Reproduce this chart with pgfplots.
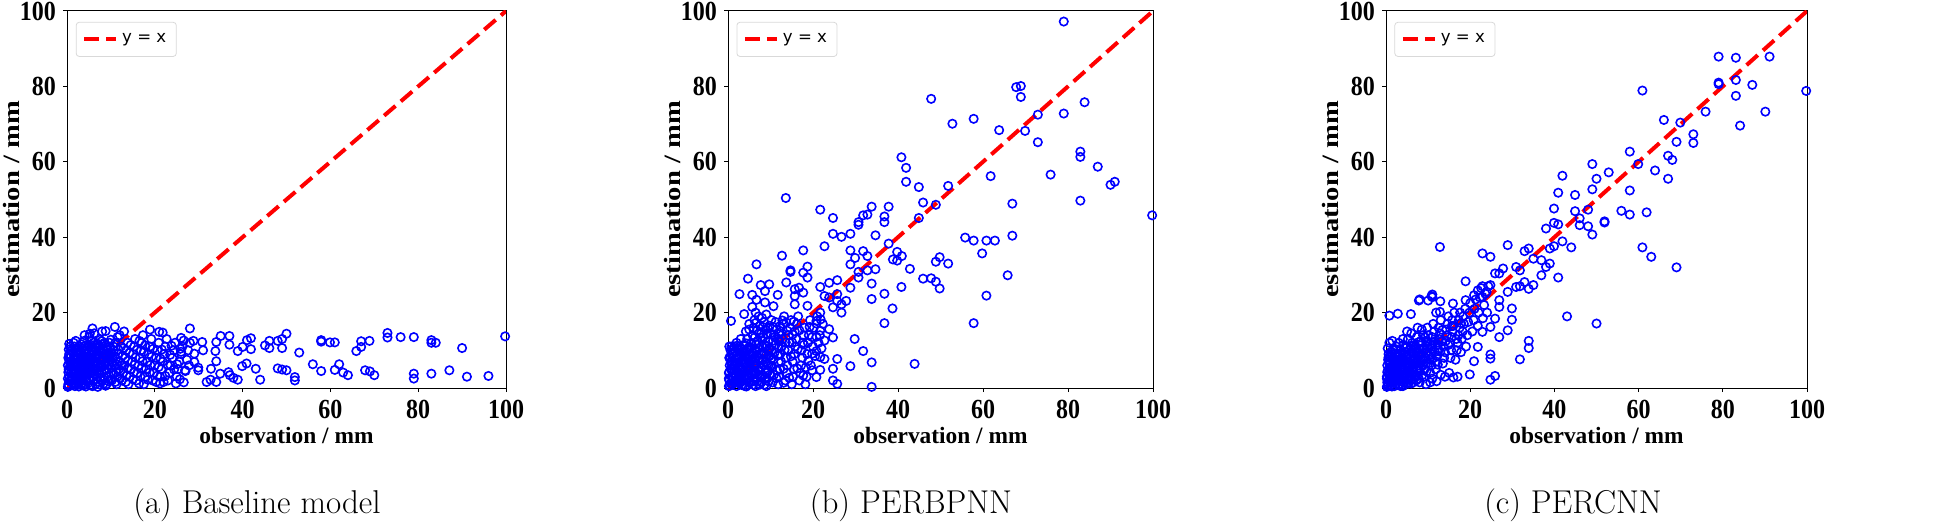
\documentclass[border=0pt]{standalone}
\usepackage{fontspec}
\usepackage{graphicx}
\usepackage{pgfplots}
\pgfplotsset{compat=1.18}
\newfontfamily\tnr{Liberation Serif}
\newfontfamily\dejavu{DejaVu Sans}
\newcommand\tickfont{\fontsize{12}{13}\selectfont\tnr\bfseries}

\pgfplotsset{
  panel/.style={
    scale only axis,
    anchor=south west,
    xmin=0, xmax=100, ymin=0, ymax=100,
    xtick={0,20,...,100}, ytick={0,20,...,100},
    tick align=outside, xtick pos=bottom, ytick pos=left,
    major tick length=2pt,
    tick style={black, line width=0.5pt},
    axis line style={line width=0.5pt},
    /pgf/number format/assume math mode=true,
    tick label style={font=\tickfont},
    xticklabel={\tickfont\scalebox{1}[1.15]{\axisdefaultticklabel}},
    yticklabel={\tickfont\scalebox{1}[1.15]{\axisdefaultticklabel}},
    xticklabel style={yshift=-0.5pt},
    xlabel={observation / mm},
    ylabel={\scalebox{1.22}[1]{estimation / mm}},
    every axis x label/.style={at={(axis description cs:0.5,0)}, anchor=center, yshift=-23.5pt,
      font=\fontsize{11.7}{14}\selectfont\tnr\bfseries},
    every axis y label/.style={at={(axis description cs:0,0.5)}, anchor=center, xshift=-28pt, rotate=90,
      font=\fontsize{11.7}{14}\selectfont\tnr\bfseries},
    legend style={at={(0.02,0.971)}, anchor=north west, draw=black!15, rounded corners=1.5pt,
      font=\fontsize{8.3}{10}\selectfont\dejavu, inner xsep=3pt, inner ysep=3.5pt, row sep=0pt},
    legend cell align=left,
    legend image code/.code={\draw[#1] (0pt,0pt) -- (16pt,0pt);},
  },
  scat/.style={only marks, mark=o, blue, mark size=2.1pt, mark options={line width=0.8pt}, forget plot},
  diag/.style={red, line width=2pt, dash pattern=on 7.5pt off 3.5pt},
}

\begin{document}
\begin{tikzpicture}
\useasboundingbox (0,0) rectangle (973pt,265.5pt);

% (a) Baseline model
\begin{axis}[panel, at={(33.5pt,71.5pt)}, width=219.5pt, height=188.5pt]
\addplot[scat] coordinates {
(28,15.8) (18.9,15.5) (21.8,14.7) (21,14.9) (26,13.3) (28.8,12.5) (30.8,12.2) (35,13.8) (37,13.8) (37,11.5)
(34,12.2) (33.8,9.8) (34,7.1) (32.8,5.1) (34.9,3.8) (31.8,1.6) (34,1.6) (32.7,2.2) (29.9,5.4) (29.9,4.7)
(29,6.9) (29,9.1) (31,10) (26,9.6) (26.9,4.7) (25.7,2.3) (24.8,1.2) (21.2,1.2) (22,1.6) (38.9,9.8)
(40,10.9) (41,12.7) (41.9,13.2) (41.9,10.3) (40.9,6.5) (39.9,5.8) (43,5.1) (44,2.2) (36.8,4.2) (37.1,3.4)
(37.9,2.7) (38.9,2.2) (45.1,11.3) (46.1,10.6) (46.1,12.5) (48,12.5) (49,13) (49,10.6) (50,14.4) (48,5.2)
(49,4.9) (50,4.7) (51.9,2.9) (51.9,2) (52.9,9.4) (56,6.3) (57.9,12.7) (57.9,12.3) (57.9,4.5) (59.9,12.1)
(61,12.1) (61,4.8) (62,6.3) (62.9,4.1) (64,3.4) (65.9,9.8) (67,10.9) (67,12.4) (68.9,12.5) (67.9,4.7)
(69,4.4) (70,3.4) (73,14.6) (73,13.4) (76,13.5) (79,13.5) (79,3.8) (79,2.5) (83,12.7) (83,12)
(84,12) (83,3.8) (87.1,4.7) (90,10.6) (91.1,3) (96,3.2) (99.8,13.7) (8.8,15.1) (10.9,16.2) (5.8,15.8)
(5.2,14.4)
(0.3,1) (0.5,3) (0.4,5) (0.6,7) (0.5,9) (1,10) (1.2,2) (1.5,4) (1.3,6) (1.6,8)
(2,1) (2.2,3) (2.4,5.5) (2.1,7.5) (2.5,9.5) (2.8,11) (3,2) (3.3,4) (3.1,6.5) (3.5,8.5)
(3.6,10.5) (3.9,12.5) (4,1) (4.2,3) (4.5,5) (4.3,7) (4.6,9) (4.8,11.5) (5,13.5) (5.3,2)
(5.5,4) (5.2,6) (5.6,8) (5.8,10) (6,12) (6.2,14.5) (6.5,1) (6.8,3) (6.4,5) (6.7,7)
(6.9,9) (7.2,11) (7.5,12.8) (7.8,2) (8,4) (7.7,6) (8.2,8) (8.4,10) (8.6,12) (9,1)
(9.2,3) (9.5,5) (9.3,7) (9.6,9) (9.8,11) (10.2,2) (10.5,4) (10.8,6) (10.4,8) (10.7,10)
(11,12) (11.3,1) (11.5,3) (11.8,5) (12,7) (11.6,9) (12.3,11) (12.5,2) (12.8,4) (13,6)
(13.3,8) (13.5,10) (13.8,12) (14,1) (14.3,3) (14.6,5) (14.8,7) (15,9) (15.3,11) (15.5,13)
(15.8,2) (16,4) (16.3,6) (16.6,8) (16.8,10) (17,12) (17.3,14) (17.5,1) (17.8,3) (18,5)
(18.3,7) (18.6,9) (18.9,11) (19.2,13) (19.5,2) (19.8,4) (20,6) (20.3,8) (20.6,10) (20.9,12)
(21.2,3) (21.5,5) (21.8,7) (22.1,9) (22.4,11) (22.7,13) (23,2) (23.3,4) (23.6,6) (24,8)
(24.3,10) (24.6,12) (25,3) (25.3,5) (25.6,7) (26,9) (26.3,11) (26.6,1.5) (27,4.5) (27.3,7.5)
(27.6,10) (28,12) (12,14) (13,15) (8,15) (4,14) (2,12.5) (0.2,0.3) (0.8,2) (1.8,0.5)
(0.3,8) (0.7,11) (1.5,12) (2.7,0.4) (3.8,0.7) (5.8,0.5) (7,0.3) (8.8,0.6) (0.2,6) (1,4.5)
(2,6.5) (3,9) (4,10) (5,11) (6,9.5) (7,8.5) (8,10.5) (1.8,3) (2.8,4.5) (3.8,5.5)
(4.8,6.5) (5.8,7.5) (6.8,4.5) (7.8,5.5) (8.8,6.5) (9.8,7.5) (10.8,8.5) (11.5,13.5) (10,12.8) (16.5,12.5)
(0.6,1.8) (0.9,3.8) (0.7,5.6) (1,7.2) (0.9,8.6) (0.4,10.2) (1.6,0.9) (1.9,2.2) (1.7,4.2) (1.9,5.8)
(2,8.4) (2.2,9.9) (2.6,1.3) (2.9,2.6) (2.7,3.8) (2.6,6.2) (2.9,7.2) (3,10) (3.4,1.2) (3.6,2.9)
(3.5,4.8) (3.8,6.1) (3.7,7.7) (4,9.2) (4.1,11.2) (4.4,1.8) (4.7,3.8) (4.6,5.9) (4.9,7.7) (5,9.8)
(5.5,10.8) (5.6,12.6) (5.4,0.7) (5.9,3) (6,4.6) (6.1,6.6) (6.4,8.3) (6.6,10.6) (6.9,11.8) (7.1,1.7)
(7.3,3.9) (7.2,5.4) (7.5,7.3) (7.6,9.6) (8,11.6) (8.3,1.1) (8.5,2.8) (8.7,5) (8.9,7.1) (9.1,8.6)
(9.3,10.2) (9.7,12) (9.9,2.2) (10,3.8) (10.1,5.4) (10.3,6.9) (10.1,9.3) (10.6,11) (11,1.6) (11.2,4.1)
(11.4,6.3) (11.1,7.7) (11.7,10.2) (12.1,2.6) (12.2,4.6) (12.6,6.1) (12.7,8.6) (12.9,10.6) (13.4,1.6) (13.6,3.3)
(13.8,5.2) (13.9,7.2) (14.2,9.3) (14.5,11.4) (15,2.3) (15.2,4.1) (15.4,6.3) (15.6,8.1) (15.9,10.1) (16.4,1.2)
(16.7,3.1) (17,5.3) (17.2,7.1) (17.5,9.6) (17.8,11.3) (18.4,2.2) (18.8,4.1) (19,6.1) (19.3,8.3) (19.6,10.4)
(20.3,1.6) (20.6,3.3) (20.9,5.6) (21.3,7.8) (21.6,10.2) (22.4,3.2) (22.9,6.2) (23.5,8.8) (23.8,11.2) (24.4,4.9)
(25.1,6.3) (25.8,10.4) (26.6,12.6) (27.8,6)
(0.4,0.6) (1.3,1.4) (2.3,2) (3.2,0.8) (4.3,0.4) (6,1.9) (7.5,0.9) (9.5,1.8) (0.2,2.5) (1.1,2.9)
(2.5,3.5) (3.9,3.4) (5,2.5) (6.3,3.6) (7.6,2.8) (9,4) (0.3,4.2) (1.4,5) (2.2,4.4) (3.2,5.2)
(4,4.3) (5.1,4.8) (6.5,5.9) (7.4,4.7) (8.4,6) (9.6,6.2) (0.8,6.4) (1.7,6.9) (2.5,7.9) (3.4,6.9)
(4.2,8.2) (5.3,7.2) (6.3,7.3) (7.2,7.8) (8.5,8.9) (9.8,8.5) (0.6,8.1) (1.3,9.3) (2.3,10.6) (3.3,9.4)
(4.4,10.4) (5.5,8.9) (6.7,9.9) (7.9,9.1) (8.9,11.2) (0.5,11.7) (1.7,11) (3.2,11.6) (6.4,11.4) (7.9,12.4)
};
\addplot[diag] coordinates {(0,0) (100,100)};
\legend{y = x}
\end{axis}

% (b) PERBPNN
\begin{axis}[panel, at={(364pt,71.5pt)}, width=212.5pt, height=188.5pt]
\addplot[scat] coordinates {
(79,97.2) (47.8,76.7) (67.8,79.8) (68.9,80.1) (68.9,77.2) (83.9,75.8) (57.8,71.4) (52.8,70.1) (63.8,68.4) (69.9,68.2)
(72.9,72.5) (79,72.8) (72.9,65.2) (82.9,62.7) (82.9,61.3) (87,58.7) (75.9,56.6) (61.8,56.2) (90,53.9) (91,54.7)
(82.9,49.7) (66.9,48.9) (99.8,45.8) (40.8,61.2) (41.9,58.4) (41.9,54.7) (44.9,53.3) (51.8,53.6) (45.9,49.2) (48.9,48.6)
(44.9,45.1) (13.6,50.4) (21.7,47.3) (24.7,45.1) (24.7,40.9) (26.7,40.1) (28.8,40.9) (22.7,37.6) (30.7,44) (30.7,43.3)
(31.8,45.8) (32.8,46) (33.8,48.1) (36.8,45.5) (36.8,44) (37.8,48.1) (34.7,40.5) (37.8,38.3) (55.8,39.9) (57.8,39.1)
(60.8,39.1) (62.8,39.1) (66.9,40.4) (59.8,35.7) (65.8,29.9) (60.8,24.5) (57.8,17.2) (36.8,17.2) (43.9,6.4) (38.7,21.1)
(36.8,25) (33.8,23.6) (33.8,27.7) (34.7,31.5) (32.8,35) (31.8,36.3) (28.8,36.5) (29.9,34.5) (28.8,32.8) (30.7,29.3)
(30.7,30.8) (32.8,31.2) (28.8,26.6) (27.8,23.1) (26.7,20) (29.8,13) (31.8,9.8) (33.8,6.8) (28.8,5.8) (33.8,0.3)
(38.8,34.1) (39.8,36.1) (39.8,33.8) (40.9,35) (42.8,31.6) (40.8,26.8) (45.9,29) (47.8,29.1) (48.9,28.2) (49.8,26.4)
(48.9,33.5) (49.8,34.7) (51.8,33) (25.7,7.7) (24.7,5.1) (24.7,2) (25.7,1.1) (13.7,28) (12.7,35.1) (6.7,32.8)
(4.7,29) (2.7,24.9) (0.7,17.8) (3.8,19.6) (5.7,21.5) (5.7,24.7) (6.7,23.4) (7.7,27.3) (8.7,25.7) (9.7,27.5)
(8.7,22.7) (10.7,21.7) (11.7,24.7) (14.7,31.2) (14.7,30.8) (17.7,36.5) (18.7,32.2) (18.7,29.3) (17.7,30.6) (16.7,26.6)
(15.7,26.2) (17.7,25.3) (15.7,24.4) (15.7,22.2) (18.7,21.8) (23.8,27.9) (21.7,26.8) (25.7,28.6) (22.7,24.4) (23.8,24)
(25.7,24.9) (25.7,23.1) (24.7,21.4) (26.7,22.2) (21.7,20) (20.8,17.8) (20.8,17.1) (21.7,15.2) (23.8,15.6) (24.7,13.4)
(22.7,12.6) (20.8,9.8) (19.8,9.1) (21.7,8.2) (22.7,7.7) (19.8,4.7) (20.8,2.9) (21.7,4.8)
(0.2,0.5) (0.3,2) (0.2,4) (0.4,6) (0.3,8) (0.6,10) (1,1) (1.2,3) (1,5) (1.3,7)
(1.1,9) (1.5,11) (2,0.5) (2.2,2.5) (2,4.5) (2.3,6.5) (2.5,8.5) (2.8,10.5) (3,1.5) (3.2,3.5)
(3,5.5) (3.4,7.5) (3.5,9.5) (3.8,11.5) (4,0.5) (4.2,2.5) (4.5,4.5) (4.3,6.5) (4.6,8.5) (4.8,10.5)
(4.5,13) (4.2,15) (5,17) (5.3,1.5) (5.5,3.5) (5.2,5.5) (5.6,7.5) (5.8,9.5) (5.5,12) (5.8,14)
(6,16) (6.2,18) (6.5,0.5) (6.8,2.5) (6.4,4.5) (6.7,6.5) (6.9,8.5) (7.2,10.5) (7,12.5) (7.3,14.5)
(7.5,16.5) (7.2,19) (7.8,1.5) (8,3.5) (7.7,5.5) (8.2,7.5) (8.4,9.5) (8.6,11.5) (8.3,13.5) (8.8,15.5)
(8.5,17.5) (9,0.5) (9.2,2.5) (9.5,4.5) (9.3,6.5) (9.6,8.5) (9.8,10.5) (9.5,12.5) (10,14.5) (9.8,16.5)
(10.2,18) (10.5,1.5) (10.8,3.5) (10.4,5.5) (10.7,7.5) (11,9.5) (11.2,11.5) (11,13.5) (11.4,15.5) (11.2,17.5)
(11.8,1) (12,3) (12.2,5) (12.5,7) (12.3,9) (12.6,11) (12.8,13) (12.5,15) (13,17) (13.2,19)
(13.5,2) (13.8,4) (14,6) (13.6,8) (14.2,10) (14.5,12) (14.3,14) (14.6,16) (14.8,18) (15,1)
(15.3,3) (15.5,5) (15.2,7) (15.6,9) (15.8,11) (16,13) (15.7,15) (16.2,17) (16.5,19) (16.8,2)
(17,4) (17.2,6) (17.5,8) (17.3,10) (17.6,12) (17.8,14) (18,16) (18.2,1) (18.5,3) (18.3,5.5)
(18.6,9) (18.8,12) (19,14) (19.3,18) (19.5,6) (20,11) (19.8,13.5) (20.2,16) (20.5,8.5) (21,19)
(21.3,12) (21.6,14) (22,10.5) (22.3,17) (0.8,11) (1.2,10.5) (3,13) (2,12) (6.5,20) (9,19.5)
(0.6,1.2) (0.8,3) (0.7,5) (0.9,7) (0.8,9) (0.3,11) (1.6,1.8) (1.8,3.8) (1.6,5.8) (1.9,7.8)
(1.7,9.6) (2.1,11.2) (2.6,1.2) (2.8,3) (2.6,5) (2.9,7) (3,9) (3.3,10.2) (3.6,0.8) (3.8,2.6)
(3.6,4.4) (3.9,6.4) (3.9,8.4) (4.2,9.6) (4.4,11.8) (4.9,1.6) (5,3.2) (4.9,5) (5,7) (5.2,8.6)
(5.3,10.8) (5.9,0.9) (6.1,2.6) (5.9,4.4) (6.2,6) (6.3,8) (6.5,9.8) (6.6,11.6) (6.3,13.4) (6.8,15.2)
(7.2,1.1) (7.4,3.2) (7.2,4.9) (7.4,7.2) (7.7,9.2) (7.9,11.2) (7.7,13.4) (8.2,16.2) (8.6,0.9) (8.7,2.7)
(8.9,4.8) (8.8,6.8) (9,8.8) (9.2,11.1) (9.2,14.2) (9.6,1.8) (9.9,3.6) (10,5.9) (10.2,7.9) (10.3,10)
(10.6,12.6) (10.6,16.2) (11.4,2.6) (11.6,4.6) (11.9,6.9) (11.7,8.6) (11.9,10.6) (12,12.4) (12,14.2) (12.2,16.4)
(13.1,1.4) (13.1,5.1) (13.3,10.1) (13.6,12.1) (13.9,15.2) (13.7,17.4) (14.4,2.7) (14.8,8.4) (15.1,12.1) (15.2,14.2)
(15.5,17.6) (16.3,5.2) (16.4,10.3) (16.8,15.3) (17.7,3.3) (17.9,11.5) (18.9,7.2) (19.2,16.2) (20.8,13.6) (21.8,18.2)
(0.4,0.6) (1.3,1.4) (2.3,2) (3.2,0.8) (4.3,0.4) (6,1.9) (7.5,0.9) (9.5,1.8) (0.2,2.5) (1.1,2.9)
(2.5,3.5) (3.9,3.4) (5,2.5) (6.3,3.6) (7.6,2.8) (9,4) (0.3,4.2) (1.4,5) (2.2,4.4) (3.2,5.2)
(4,4.3) (5.1,4.8) (6.5,5.9) (7.4,4.7) (8.4,6) (9.6,6.2) (0.8,6.4) (1.7,6.9) (2.5,7.9) (3.4,6.9)
(4.2,8.2) (5.3,7.2) (6.3,7.3) (7.2,7.8) (8.5,8.9) (9.8,8.5) (0.6,8.1) (1.3,9.3) (2.3,10.6) (3.3,9.4)
(4.4,10.4) (5.5,8.9) (6.7,9.9) (7.9,9.1) (8.9,11.2) (5,15.5) (6.6,17.3) (8,18.6) (9.4,15.8) (10.8,14.1)
(12.8,17.9) (7.8,14.4) (11.7,13)
};
\addplot[diag] coordinates {(0,0) (100,100)};
\legend{y = x}
\end{axis}

% (c) PERCNN
\begin{axis}[panel, at={(693pt,71.5pt)}, width=210.5pt, height=188.5pt]
\addplot[scat] coordinates {
(79,87.9) (83.1,87.6) (91.1,87.9) (79,81) (79,80.6) (83.1,81.7) (83.1,77.5) (87,80.4) (60.9,78.9) (99.8,78.8)
(75.9,73.3) (90.1,73.3) (84.1,69.6) (66,71.1) (69.9,70.4) (73,67.3) (73,65) (69,65.3) (67,61.6) (68,60.5)
(57.9,62.7) (59.9,59.4) (63.9,57.7) (67,55.5) (57.9,52.4) (49,59.4) (50,55.5) (52.9,57.2) (49,52.7) (41.9,56.3)
(40.9,51.8) (44.9,51.2) (39.9,47.6) (44.9,46.9) (48,47.3) (46,45) (46,43.2) (48,42.9) (49,40.7) (51.9,44.2)
(51.9,43.9) (55.9,47) (57.9,46) (61.9,46.6) (38,42.3) (39.9,43.8) (40.9,43.4) (38.9,37) (39.9,37.6) (41.9,38.9)
(44,37.3) (60.9,37.3) (63,34.8) (69,32) (43,19) (50,17.1) (40.9,29.3) (38.9,33) (38,32.1) (36.9,29.9)
(36.9,33.9) (35,34.3) (33.9,37) (32.9,36.3) (28.9,37.9) (22.9,35.7) (24.8,34.8) (12.8,37.4) (35,27.3) (33.9,26.3)
(32.9,28.1) (30.9,26.8) (31.8,27) (30.9,32.1) (31.8,31.2) (27.8,31.7) (25.9,30.4) (26.9,30.4) (28.9,25.5) (29.9,21.1)
(29.9,18.1) (26.9,21.5) (26.9,23.3) (25.9,18.4) (28.9,15.3) (26.9,13.5) (24.8,16.2) (22.9,14.9) (21.8,10.9) (20.9,7.1)
(19.9,3.6) (24.8,8.9) (24.8,7.8) (25.9,3.2) (24.8,2.2) (31.8,7.6) (33.9,12.5) (33.9,10.6) (18.9,28.3) (10.8,24.4)
(11,24.1) (7.8,23.2) (10,23.2) (12.9,23) (11.9,20) (5.9,19.6) (2.8,19.7) (0.8,19.2) (18.9,23.3) (15.9,22.4)
(22.9,27) (21.8,25.9) (20.9,24.6) (22.9,24.2) (23.9,25.5) (24.8,27.3)
(0.2,0.3) (0.3,1.5) (0.2,3) (0.4,4.5) (0.3,6) (0.5,7.5) (0.6,9) (0.8,12) (1,0.8) (1.2,2.2)
(1,3.8) (1.3,5.3) (1.1,6.8) (1.5,8.5) (1.8,10) (2,0.5) (2.2,1.8) (2,3.2) (2.3,4.6) (2.5,6)
(2.2,7.5) (2.8,9) (3,12) (3,1) (3.2,2.5) (3,4) (3.4,5.5) (3.5,7) (3.8,8.5) (3.5,10)
(4,0.5) (4.2,2) (4.5,3.5) (4.3,5) (4.6,6.5) (4.8,8) (4.5,9.5) (5,11) (5.2,13) (5.3,1.2)
(5.5,2.8) (5.2,4.3) (5.6,5.8) (5.8,7.3) (5.5,9) (6,10.5) (6.2,12) (6.5,1.5) (6.8,3.5) (6.4,5)
(6.7,6.5) (6.9,8) (7.2,9.5) (7,11) (7.3,13.5) (7.5,16) (7.8,2.5) (8,4.5) (7.7,6) (8.2,7.5)
(8.4,9) (8.6,10.5) (8.3,12.5) (8.8,14) (8.5,15.5) (9,3) (9.2,5) (9.5,6.5) (9.3,8) (9.6,9.5)
(9.8,11) (9.5,12.5) (10,14) (9.8,16) (10.5,4) (10.8,6) (10.4,7.5) (10.7,9) (11,10.5) (11.2,12)
(11,13.5) (11.4,15) (11.2,17) (11.8,5) (12,7) (12.2,8.5) (12.5,10) (12.3,11.5) (12.6,13) (12.8,14.5)
(12.5,16) (13,18) (13.5,6.5) (13.8,8) (14,9.5) (13.6,11) (14.2,12.5) (14.5,14) (14.3,15.5) (14.6,17)
(14.8,19) (15,4) (15.3,8) (15.5,10) (15.2,12) (15.6,13.5) (15.8,15) (16,16.5) (15.7,18) (16.2,20)
(16.5,7.5) (16.8,10) (17,12) (17.2,14) (17.5,16) (17.3,18) (17.6,20) (17.8,9.5) (18,13) (18.2,15)
(18.5,17) (18.3,19) (18.8,21) (19,11) (19.3,14) (19.5,17.5) (19.8,20) (20,22.5) (20.5,15) (20.8,18)
(21,21) (21.3,23.5) (21.8,16.5) (22,20) (22.3,24) (22.6,26.5) (23,18.5) (23.3,22) (23.6,25) (24,20)
(24.3,27) (12,1.8) (13,3.5) (11,2.5) (8,1.5) (9.5,1) (10.5,1.5) (14,3) (16,2.8) (17,3)
(1.5,12.5) (2.5,11) (4,13) (5,15) (6,14.5) (8,23.5) (11,24.8) (12.8,20.2)
(0.5,0.9) (0.7,2.3) (0.6,3.8) (0.8,5.3) (0.9,6.8) (0.8,8.3) (0.4,10.5) (1.4,0.4) (1.6,1.6) (1.5,3.1)
(1.7,4.4) (1.6,5.9) (1.9,7.3) (1.2,9.6) (2.4,1.1) (2.6,2.6) (2.6,3.9) (2.8,5.3) (2.9,6.7) (2.6,8.2)
(2.3,10.3) (3.5,0.5) (3.6,1.8) (3.7,3.3) (3.9,4.6) (4,6.2) (4,7.6) (4.2,9) (4.1,11.4) (4.9,1.2)
(4.8,2.6) (5,4) (5.1,5.3) (5.2,6.8) (5.1,8.4) (5.6,10.2) (6,1.2) (6.2,2.4) (6.1,3.8) (6.3,5.6)
(6.4,7.3) (6.6,9) (6.6,11.3) (7.2,2) (7.4,3.1) (7.3,4.6) (7.5,6.7) (7.7,8.4) (7.9,10.2) (7.8,12.2)
(8.6,3.4) (8.7,5.9) (8.9,7.6) (9,10.2) (9.3,13.4) (9.6,4.4) (10,6.5) (10.3,8.6) (10.4,11.6) (11,7.8)
(11.6,9.6) (11.6,12.4) (12.3,6.2) (12.9,9.6) (13.2,12.3) (13.4,15.4) (14.8,11.4) (15.6,16.4) (16.7,13) (17.8,17.2)
(0.4,0.6) (1.3,1.4) (2.3,2) (3.2,0.8) (4.3,1.4) (5.8,2) (0.2,2.5) (1.1,2.9) (2.5,3.5) (3.9,3.4)
(5,3.2) (6.6,4.3) (0.3,4.2) (1.4,5) (2.2,4.4) (3.2,5.2) (4,5.6) (5.1,6) (6.5,6.2) (7.4,5.3)
(8.2,6.8) (0.8,6.4) (1.7,6.1) (2.5,7) (3.4,7.8) (4.3,7.1) (5.5,7.8) (6.8,7.7) (7.6,9.3) (9.4,9.3)
(0.6,8.1) (1.3,9) (2.3,9.2) (3.3,9) (4.6,10.6) (5.9,11.2) (7.1,10.5) (8.2,11.3) (9.9,12.2) (10.9,11.3)
};
\addplot[diag] coordinates {(0,0) (100,100)};
\legend{y = x}
\end{axis}

\node[anchor=base, font=\fontsize{16.5}{19}\selectfont] at (128.5pt,9pt) {(a) Baseline model};
\node[anchor=base, font=\fontsize{16.5}{19}\selectfont] at (455.5pt,9pt) {(b) PERBPNN};
\node[anchor=base, font=\fontsize{16.5}{19}\selectfont] at (786.5pt,9pt) {(c) PERCNN};
\end{tikzpicture}
\end{document}
